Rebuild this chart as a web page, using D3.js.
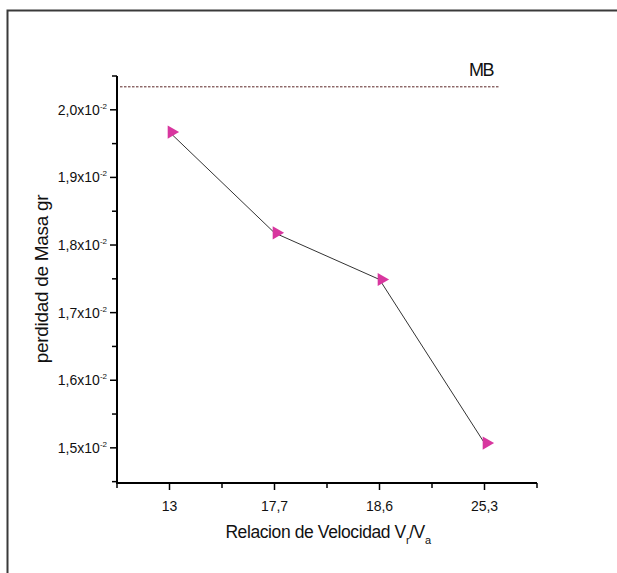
<!DOCTYPE html>
<html>
<head>
<meta charset="utf-8">
<script src="https://cdn.jsdelivr.net/npm/d3@7"></script>
<style>
  body { margin: 0; background: #fff; }
  text { font-family: "Liberation Sans", Arial, sans-serif; fill: #111; }
</style>
</head>
<body>
<div id="chart"></div>
<script>
// data (values in units of 10^-2 gr)
const categories = ["13", "17,7", "18,6", "25,3"]
const masaLoss = [1.967, 1.818, 1.749, 1.507]
const mbValue = 2.034
const yTicks = [1.5, 1.6, 1.7, 1.8, 1.9, 2.0]
const yMinorTicks = [1.45, 1.55, 1.65, 1.75, 1.85, 1.95, 2.05]

const width = 617, height = 573

const svg = d3.select("#chart").append("svg")
    .attr("width", width)
    .attr("height", height)

// outer frame (only top and left show)
svg.append("path")
    .attr("d", "M7.5,620 L7.5,10.5 L640,10.5")
    .attr("fill", "none")
    .attr("stroke", "#3a3a3a")
    .attr("stroke-width", 2)

const x = d3.scaleLinear().domain([0.5, 4.5]).range([117, 537])
const y = d3.scaleLinear().domain([1.448, 2.05]).range([483, 76])

// y axis
const yAxis = svg.append("g").attr("transform", "translate(117,0)")
yAxis.append("line")
    .attr("y1", y(2.05)).attr("y2", y(1.448))
    .attr("stroke", "#000").attr("stroke-width", 2)
yAxis.selectAll("line.minor").data(yMinorTicks).enter().append("line")
    .attr("class", "minor")
    .attr("x1", 0).attr("x2", -5)
    .attr("y1", d => y(d)).attr("y2", d => y(d))
    .attr("stroke", "#000").attr("stroke-width", 1.5)
yAxis.selectAll("line.major").data(yTicks).enter().append("line")
    .attr("class", "major")
    .attr("x1", 0).attr("x2", -7)
    .attr("y1", d => y(d)).attr("y2", d => y(d))
    .attr("stroke", "#000").attr("stroke-width", 1.5)
const yLab = yAxis.selectAll("text.tl").data(yTicks).enter().append("text")
    .attr("class", "tl")
    .attr("x", -10)
    .attr("y", d => y(d) + 5)
    .attr("text-anchor", "end")
    .style("font-size", "14px")
yLab.append("tspan").text(d => d3.format(".1f")(d).replace(".", ",") + "x10")
yLab.append("tspan").attr("dy", -6).style("font-size", "8px").text("-2")

// x axis
const xAxis = svg.append("g").attr("transform", "translate(0,483)")
xAxis.append("line")
    .attr("x1", x(0.5) - 1).attr("x2", x(4.5))
    .attr("stroke", "#000").attr("stroke-width", 2)
xAxis.selectAll("line.minor").data([0.5, 1.5, 2.5, 3.5, 4.5]).enter().append("line")
    .attr("class", "minor")
    .attr("x1", d => x(d)).attr("x2", d => x(d))
    .attr("y1", 0).attr("y2", 5)
    .attr("stroke", "#000").attr("stroke-width", 1.5)
xAxis.selectAll("line.major").data(categories).enter().append("line")
    .attr("class", "major")
    .attr("x1", (d, i) => x(i + 1)).attr("x2", (d, i) => x(i + 1))
    .attr("y1", 0).attr("y2", 7)
    .attr("stroke", "#000").attr("stroke-width", 1.5)
xAxis.selectAll("text").data(categories).enter().append("text")
    .attr("x", (d, i) => x(i + 1))
    .attr("y", 28)
    .attr("text-anchor", "middle")
    .style("font-size", "14px")
    .text(d => d)

// axis titles
svg.append("text")
    .attr("transform", "translate(48,279) rotate(-90)")
    .attr("text-anchor", "middle")
    .style("font-size", "19px")
    .style("letter-spacing", "-0.3px")
    .text("perdidad de Masa gr")

const xt = svg.append("text")
    .attr("x", 328).attr("y", 538)
    .attr("text-anchor", "middle")
    .style("font-size", "17.5px")
    .style("letter-spacing", "-0.4px")
xt.append("tspan").text("Relacion de Velocidad V")
xt.append("tspan").attr("dy", 6).style("font-size", "11px").text("r")
xt.append("tspan").attr("dy", -6).text("/V")
xt.append("tspan").attr("dy", 6).style("font-size", "11px").text("a")

// MB reference line
svg.append("line")
    .attr("x1", 120).attr("x2", 500)
    .attr("y1", y(mbValue)).attr("y2", y(mbValue))
    .attr("stroke", "#5a2424")
    .attr("stroke-width", 1)
    .attr("stroke-dasharray", "2.5,1.5")
svg.append("text")
    .attr("x", 481).attr("y", y(mbValue) - 11)
    .attr("text-anchor", "middle")
    .style("font-size", "18px")
    .style("letter-spacing", "-1.5px")
    .text("MB")

// series line
const line = d3.line()
    .x((d, i) => x(i + 1))
    .y(d => y(d))
svg.append("path")
    .datum(masaLoss)
    .attr("d", line)
    .attr("fill", "none")
    .attr("stroke", "#333")
    .attr("stroke-width", 1)

// markers: right-pointing triangles
const tri = d3.symbol().type(d3.symbolTriangle).size(75)
svg.selectAll("path.pt").data(masaLoss).enter().append("path")
    .attr("class", "pt")
    .attr("d", tri)
    .attr("transform", (d, i) => `translate(${x(i + 1) + 2},${y(d)}) rotate(90)`)
    .attr("fill", "#d8369f")
</script>
</body>
</html>
